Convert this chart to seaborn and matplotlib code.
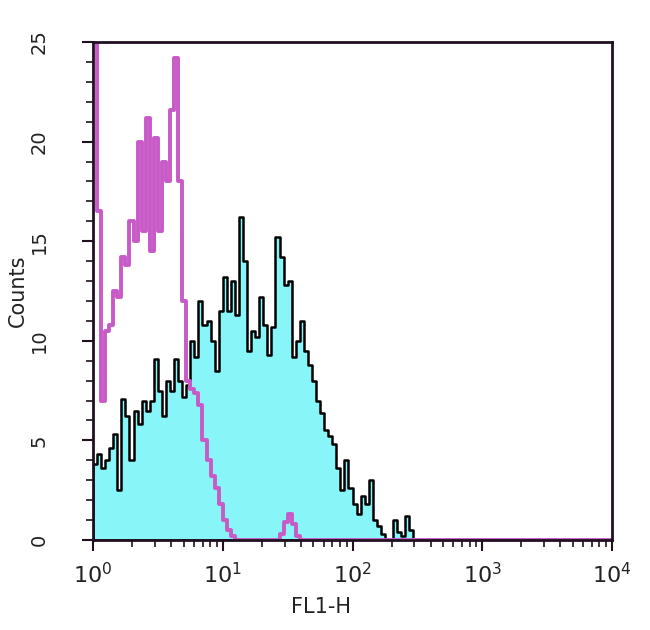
import numpy as np
import pandas as pd
import matplotlib
matplotlib.use("Agg")
import matplotlib.pyplot as plt
from matplotlib.ticker import LogLocator, MultipleLocator, NullFormatter
import seaborn as sns

# FL1-H histogram, 128 log channels over 4 decades (10^0 .. 10^4)
# stained sample (cyan, black outline), first 80 channels, rest are empty
stained_counts = [
    3.8, 4.3, 3.6, 4.0, 4.6, 5.3, 2.5, 7.1, 6.2, 4.0,
    6.5, 5.8, 7.0, 6.5, 7.0, 9.1, 7.5, 6.2, 8.0, 7.5,
    9.1, 8.0, 7.2, 7.8, 10.0, 9.2, 12.0, 10.8, 11.0, 10.0,
    8.5, 11.5, 13.2, 11.5, 13.0, 11.3, 16.2, 14.0, 9.5, 10.5,
    10.2, 12.2, 10.8, 9.3, 10.7, 15.2, 14.2, 12.8, 13.0, 9.2,
    10.0, 11.0, 9.5, 8.8, 8.0, 7.0, 6.4, 5.5, 5.2, 4.8,
    3.6, 2.5, 4.0, 2.6, 1.8, 1.3, 2.2, 1.8, 3.0, 1.0,
    0.7, 0.3, 0.0, 0.0, 1.0, 0.4, 0.2, 1.2, 0.5, 0.0,
]
# isotype control (magenta outline), first channel is off scale
isotype_counts = [
    45.0, 16.5, 7.0, 10.5, 10.8, 12.5, 12.2, 14.2, 13.8, 16.0,
    15.0, 20.0, 15.5, 21.2, 14.5, 20.2, 15.5, 19.0, 18.0, 21.6,
    24.2, 18.0, 12.0, 8.0, 7.6, 7.4, 6.8, 5.0, 4.0, 3.2,
    2.6, 1.8, 1.0, 0.5, 0.2, 0.0, 0.0, 0.0, 0.0, 0.0,
    0.0, 0.0, 0.0, 0.0, 0.0, 0.0, 0.3, 0.9, 1.3, 0.8,
    0.2, 0.0,
]

n_channels = 128
decades = 4
channel_centers = 10 ** ((np.arange(n_channels) + 0.5) * decades / n_channels)


def pad(values):
    full = np.zeros(n_channels)
    full[:len(values)] = values
    return full


df = pd.DataFrame({
    "FL1-H": channel_centers,
    "stained": pad(stained_counts),
    "isotype": pad(isotype_counts),
})

sns.set_style("ticks")
plt.rcParams["font.family"] = ["DejaVu Sans"]
plt.rcParams["mathtext.default"] = "regular"

fig = plt.figure(figsize=(6.5, 6.3), dpi=100)
ax = fig.add_axes([93 / 650, 1 - 540 / 630, (612 - 93) / 650, (540 - 42) / 630])

sns.histplot(data=df, x="FL1-H", weights="stained", bins=n_channels, binrange=(0, decades),
             log_scale=True, element="step", fill=True, color="#88F6F8", alpha=1,
             edgecolor="black", linewidth=1.8, ax=ax)
sns.histplot(data=df, x="FL1-H", weights="isotype", bins=n_channels, binrange=(0, decades),
             log_scale=True, element="step", fill=False, color="#C85AC8",
             linewidth=2.8, ax=ax)

ax.set_xlim(1, 1e4)
ax.set_ylim(0, 25)
ax.xaxis.set_major_locator(LogLocator(base=10, numticks=10))
ax.xaxis.set_minor_locator(LogLocator(base=10, subs=np.arange(2, 10), numticks=20))
ax.xaxis.set_minor_formatter(NullFormatter())
ax.yaxis.set_major_locator(MultipleLocator(5))
ax.yaxis.set_minor_locator(MultipleLocator(1))

ax.tick_params(which="major", direction="out", length=8, width=1.5, color="#201020")
ax.tick_params(which="minor", direction="out", length=5, width=1.2, color="#201020")
ax.tick_params(axis="x", which="major", labelsize=16, pad=8, labelcolor="#222222")
ax.tick_params(axis="y", which="major", labelsize=14, labelrotation=90, pad=24, labelcolor="#222222")
for lab in ax.get_yticklabels():
    lab.set_va("center")

for sp in ax.spines.values():
    sp.set_linewidth(2)
    sp.set_color("#201020")

ax.set_xlabel("FL1-H", fontsize=15, color="#222222")
ax.set_ylabel("Counts", fontsize=15, color="#222222")
ax.xaxis.set_label_coords(0.44, -0.115)
ax.yaxis.set_label_coords(-0.125, 0.50)

fig.savefig("out.png", dpi=100)
